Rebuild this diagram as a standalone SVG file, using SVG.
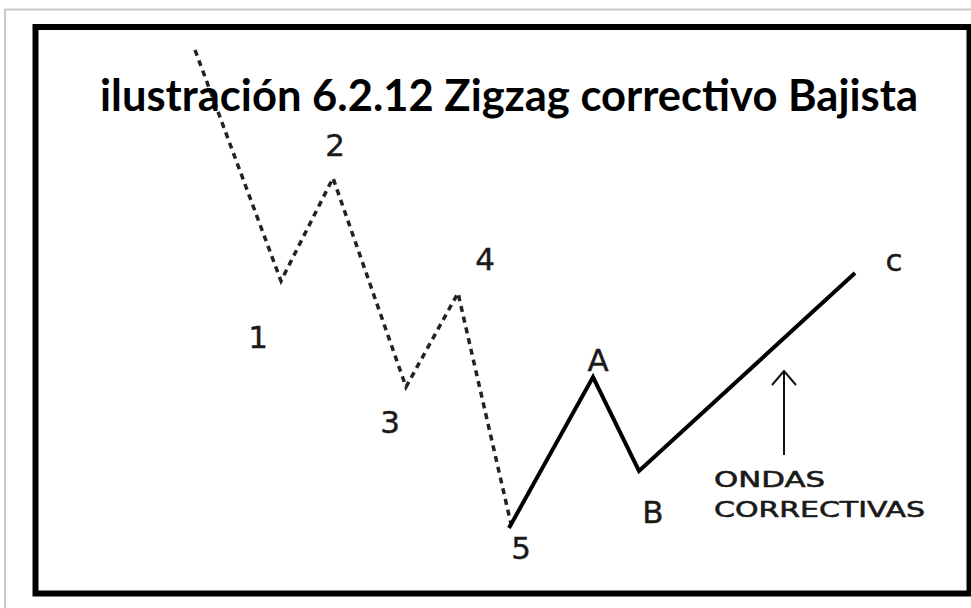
<svg xmlns="http://www.w3.org/2000/svg" width="971" height="608" viewBox="0 0 971 608">
<style>
.lbl{font-family:"DejaVu Sans","Verdana",sans-serif;fill:#1a1a1a;text-anchor:middle;stroke:#1a1a1a;stroke-width:0.4}
.big{font-size:31px}
.small{font-size:22px;text-anchor:start;stroke-width:0.6}
.title{font-family:Lato,"Open Sans",sans-serif;font-weight:bold;font-size:44px;fill:#000}
</style>
<rect width="971" height="608" fill="#fff"/>
<path d="M5 612 V9.5 H975" fill="none" stroke="#c8c8c8" stroke-width="2"/>
<rect x="35.5" y="27" width="934" height="566.5" fill="none" stroke="#000" stroke-width="6"/>
<g id="connectors">
<polyline points="195,50 281,281 333,178 406,387 458,293 511,524" fill="none" stroke="#222" stroke-width="3.5" stroke-dasharray="6,5"/>
<polyline points="509,528 593,377 639,471 855,273" fill="none" stroke="#000" stroke-width="4" stroke-linejoin="miter"/>
<line x1="784" y1="455" x2="784" y2="371" stroke="#111" stroke-width="2"/>
<polyline points="772,385 784,371 796,385" fill="none" stroke="#111" stroke-width="2"/>
</g>
<g id="title"><text class="title" x="100" y="111" textLength="818" lengthAdjust="spacingAndGlyphs">ilustración 6.2.12 Zigzag correctivo Bajista</text></g>
<g id="n1"><text class="lbl big" x="258" y="348">1</text></g>
<g id="n2"><text class="lbl big" x="335" y="156">2</text></g>
<g id="n3"><text class="lbl big" x="390" y="433">3</text></g>
<g id="n4"><text class="lbl big" x="485" y="270">4</text></g>
<g id="n5"><text class="lbl big" x="521" y="559">5</text></g>
<g id="nA"><text class="lbl big" x="598" y="371">A</text></g>
<g id="nB"><text class="lbl big" x="653" y="523">B</text></g>
<g id="nC"><text class="lbl big" x="894" y="271">c</text></g>
<g id="note">
<text class="lbl small" x="714" y="487" textLength="111" lengthAdjust="spacingAndGlyphs">ONDAS</text>
<text class="lbl small" x="714" y="517" textLength="211" lengthAdjust="spacingAndGlyphs">CORRECTIVAS</text>
</g>
</svg>
